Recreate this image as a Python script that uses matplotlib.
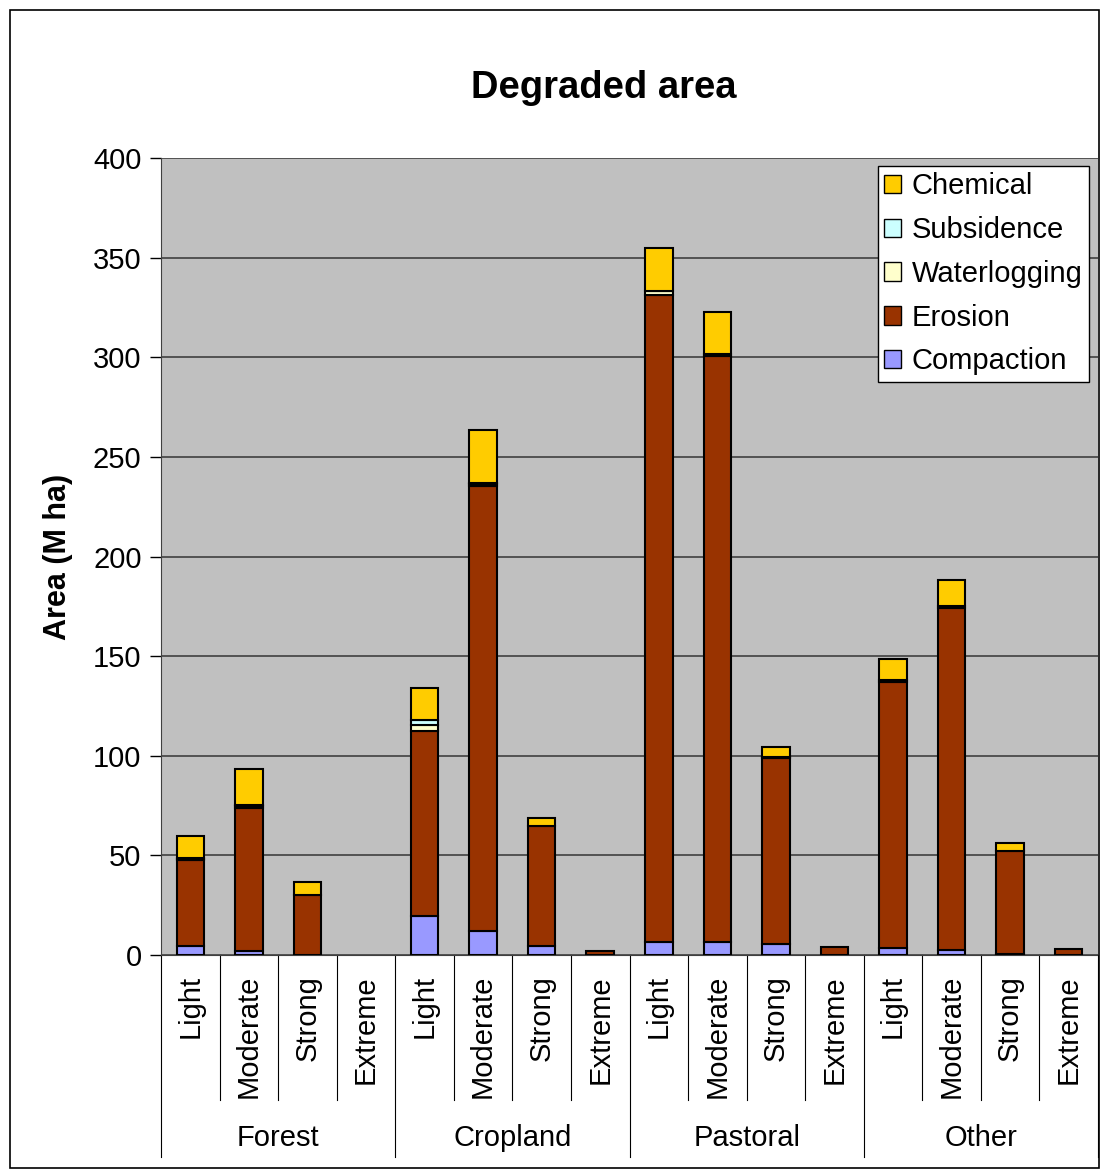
import matplotlib
matplotlib.use("Agg")
import matplotlib.pyplot as plt
from matplotlib.patches import Patch, Rectangle
from matplotlib.transforms import blended_transform_factory
import numpy as np

plt.rcParams['font.family'] = ['Liberation Sans', 'DejaVu Sans']

groups = ["Forest", "Cropland", "Pastoral", "Other"]
levels = ["Light", "Moderate", "Strong", "Extreme"]

# M ha, 16 bars: group x level
compaction   = [4.5, 1.8, 0.0, 0.0,  19.5, 12.0, 4.5, 0.0,  6.5, 6.5, 5.5, 0.0,  3.5, 2.5, 0.7, 0.0]
erosion      = [43.0, 72.0, 30.0, 0.0,  93.0, 223.5, 60.0, 2.0,  324.5, 294.0, 93.5, 4.0,  133.5, 171.5, 51.5, 3.0]
waterlogging = [0.8, 1.0, 0.0, 0.0,  2.8, 1.0, 0.0, 0.0,  2.0, 1.0, 0.5, 0.0,  1.0, 1.0, 0.0, 0.0]
subsidence   = [0.3, 0.3, 0.0, 0.0,  2.6, 0.5, 0.0, 0.0,  0.5, 0.3, 0.0, 0.0,  0.0, 0.0, 0.0, 0.0]
chemical     = [11.0, 18.0, 6.5, 0.0,  16.0, 26.5, 4.5, 0.0,  21.5, 21.0, 5.0, 0.0,  10.5, 13.0, 4.0, 0.0]

series = [
    ("Compaction", compaction, "#9999FF"),
    ("Erosion", erosion, "#993300"),
    ("Waterlogging", waterlogging, "#FFFFCC"),
    ("Subsidence", subsidence, "#CCFFFF"),
    ("Chemical", chemical, "#FFCC00"),
]

W, H = 1103, 1171
fig = plt.figure(figsize=(W / 100, H / 100), dpi=100)
fig.patch.set_facecolor("white")

# outer frame
fig.add_artist(Rectangle((10 / W, 1 - 1168 / H), (1099 - 10) / W, (1168 - 10) / H,
                         transform=fig.transFigure, fill=False, edgecolor="black", lw=1.2))

left, right, top, bottom = 161, 1098, 158, 955
ax = fig.add_axes([left / W, 1 - bottom / H, (right - left) / W, (bottom - top) / H])
ax.set_facecolor("#C0C0C0")

x = np.arange(len(compaction))
base = np.zeros(len(x))
for name, vals, col in series:
    vals = np.array(vals)
    nz = vals > 0  # empty segments get no outline
    ax.bar(x[nz], vals[nz], width=0.47, bottom=base[nz], color=col, edgecolor="black",
           linewidth=1.5, label=name, zorder=3)
    base = base + vals

ax.set_xlim(-0.5, len(x) - 0.5)
ax.set_ylim(0, 400)
ax.set_yticks(np.arange(0, 401, 50))
ax.tick_params(axis="y", labelsize=21, length=8, width=1, direction="out", pad=6)
ax.set_xticks([])
ax.yaxis.grid(True, color="#404040", lw=1.2, zorder=1)
for s in ["top", "right"]:
    ax.spines[s].set_visible(False)
ax.spines["left"].set_color("#404040")
ax.spines["bottom"].set_color("#404040")

# two-level category axis
tr = blended_transform_factory(ax.transData, ax.transAxes)
lvl_bottom = -(1100 - bottom) / (bottom - top)
grp_bottom = -(1157 - bottom) / (bottom - top)
for k in range(len(x) + 1):
    yb = grp_bottom if k % 4 == 0 else lvl_bottom
    ax.plot([k - 0.5, k - 0.5], [0, yb], transform=tr, color="black", lw=0.8, clip_on=False)
for i in x:
    ax.text(i, -(975 - bottom) / (bottom - top), levels[i % 4], transform=tr, rotation=90,
            ha="center", va="top", fontsize=21)
for g, name in enumerate(groups):
    ax.text(g * 4 + 1.5, -(1138 - bottom) / (bottom - top), name, transform=tr,
            ha="center", va="center", fontsize=21)

ax.set_ylabel("Area (M ha)", fontsize=22, fontweight="bold", labelpad=14)
fig.text(604 / W, 1 - 88 / H, "Degraded area", ha="center", va="center",
         fontsize=27.5, fontweight="bold")

handles = [Patch(facecolor=col, edgecolor="black", label=name) for name, _, col in reversed(series)]
leg = ax.legend(handles=handles, loc="upper right", bbox_to_anchor=(1089 / W, 1 - 166 / H),
                bbox_transform=fig.transFigure, fontsize=21, frameon=True, fancybox=False,
                framealpha=1, facecolor="white",
                handlelength=0.6, handleheight=0.6, handletextpad=0.35, labelspacing=0.54,
                borderpad=0.22, borderaxespad=0)
leg.get_frame().set_edgecolor("black")
leg.get_frame().set_linewidth(1)
leg.set_zorder(5)

fig.savefig("out.png", dpi=100)
